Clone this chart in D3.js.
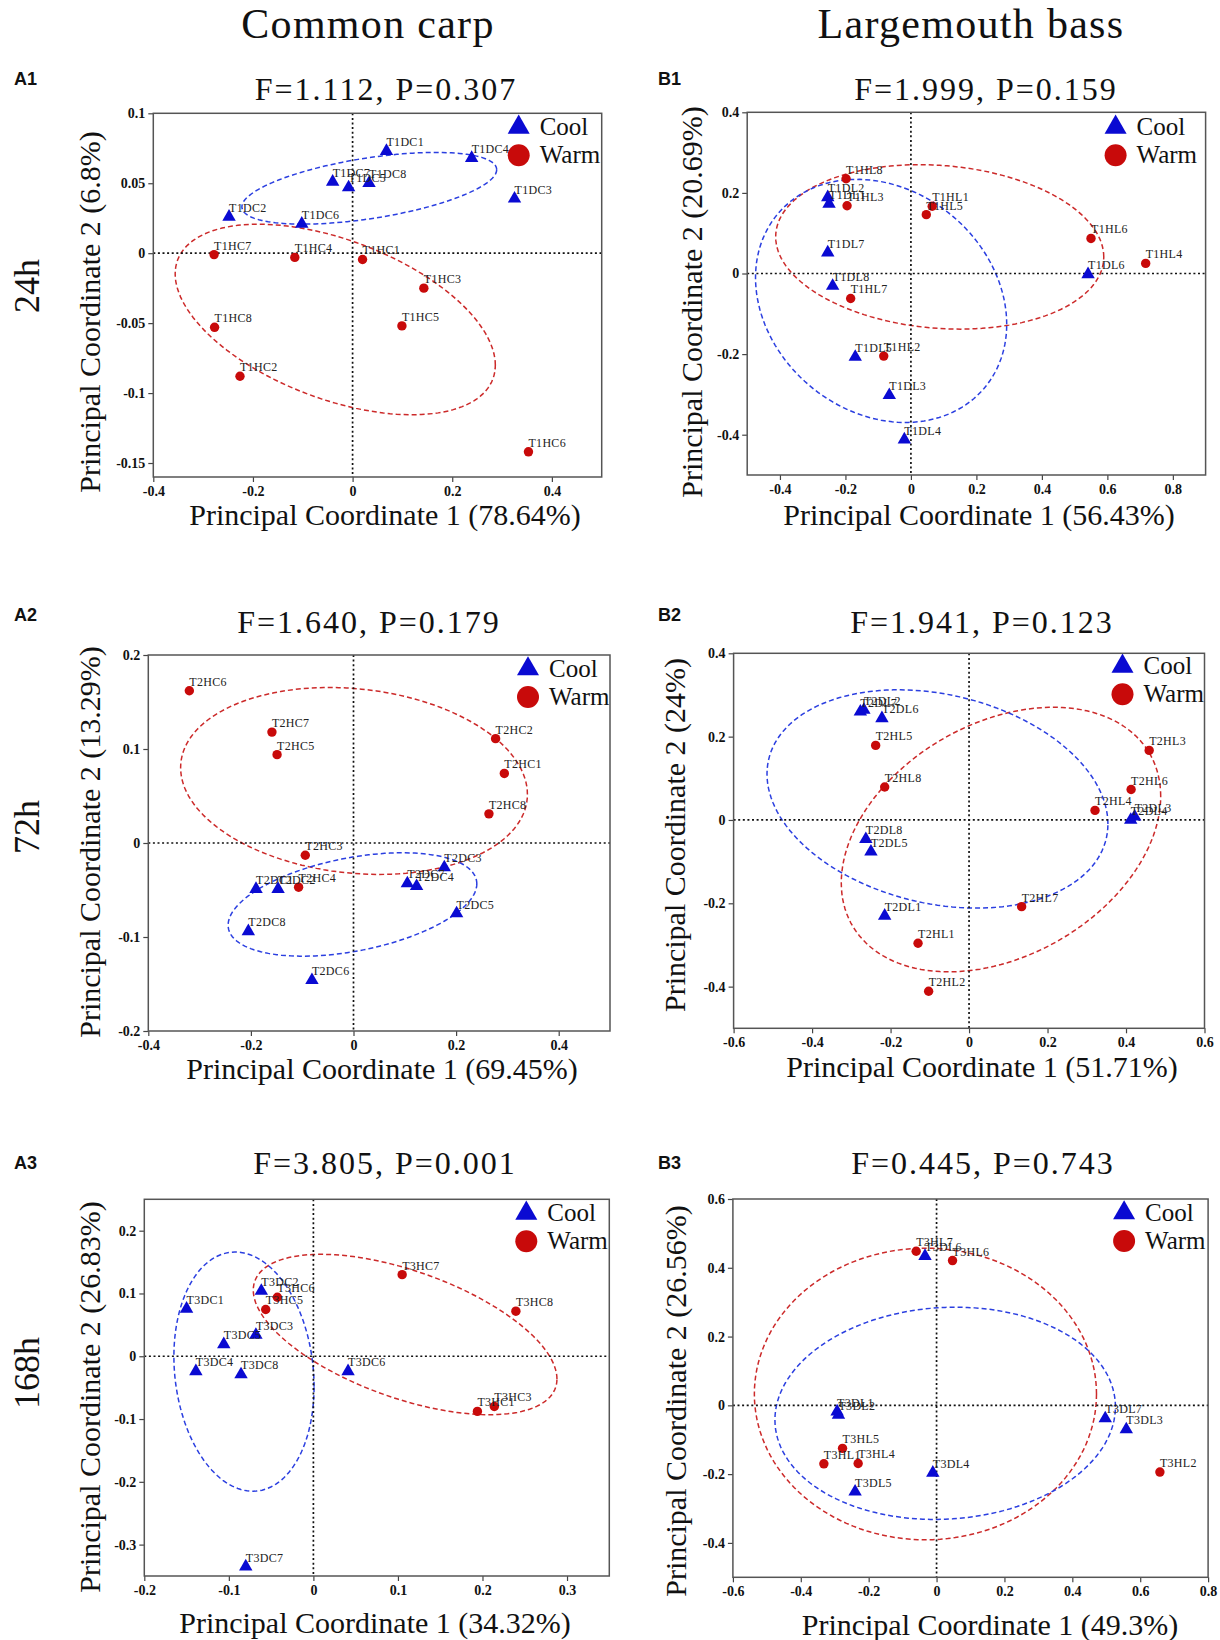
<!DOCTYPE html>
<html>
<head>
<meta charset="utf-8">
<script src="https://cdn.jsdelivr.net/npm/d3@7"></script>
<style>
body { margin: 0; background: #fff; }
svg text { font-family: "Liberation Serif", "Times New Roman", serif; }
</style>
</head>
<body>
<svg id="fig" width="1220" height="1640"></svg>
<script>
// ---- data: [label, PC1, PC2] ----
var a1Cool = [["T1DC1", 0.068, 0.073], ["T1DC4", 0.239, 0.068], ["T1DC3", 0.325, 0.039], ["T1DC7", -0.040, 0.051],
              ["T1DC5", -0.008, 0.047], ["T1DC8", 0.033, 0.050], ["T1DC2", -0.248, 0.026], ["T1DC6", -0.102, 0.021]];
var a1Warm = [["T1HC7", -0.278, -0.001], ["T1HC4", -0.116, -0.003], ["T1HC1", 0.020, -0.0045], ["T1HC3", 0.143, -0.025],
              ["T1HC5", 0.099, -0.052], ["T1HC8", -0.277, -0.053], ["T1HC2", -0.226, -0.088], ["T1HC6", 0.353, -0.142]];
var b1Cool = [["T1DL2", -0.254, 0.189], ["T1DL1", -0.250, 0.173], ["T1DL7", -0.254, 0.052], ["T1DL8", -0.239, -0.031],
              ["T1DL5", -0.170, -0.207], ["T1DL3", -0.066, -0.302], ["T1DL4", -0.020, -0.412], ["T1DL6", 0.541, -0.002]];
var b1Warm = [["T1HL8", -0.198, 0.235], ["T1HL3", -0.195, 0.168], ["T1HL1", 0.065, 0.167], ["T1HL5", 0.047, 0.146],
              ["T1HL6", 0.550, 0.087], ["T1HL4", 0.717, 0.025], ["T1HL7", -0.184, -0.062], ["T1HL2", -0.083, -0.205]];
var a2Cool = [["T2DC1", -0.190, -0.049], ["T2DC2", -0.147, -0.049], ["T2DC7", 0.105, -0.043], ["T2DC4", 0.123, -0.046],
              ["T2DC3", 0.177, -0.026], ["T2DC5", 0.201, -0.075], ["T2DC8", -0.205, -0.094], ["T2DC6", -0.081, -0.146]];
var a2Warm = [["T2HC6", -0.320, 0.162], ["T2HC7", -0.159, 0.118], ["T2HC5", -0.149, 0.094], ["T2HC2", 0.277, 0.111],
              ["T2HC1", 0.294, 0.074], ["T2HC8", 0.264, 0.031], ["T2HC3", -0.094, -0.013], ["T2HC4", -0.107, -0.047]];
var b2Cool = [["T2DL7", -0.277, 0.260], ["T2DL2", -0.268, 0.264], ["T2DL6", -0.222, 0.244], ["T2DL8", -0.263, -0.046],
              ["T2DL5", -0.250, -0.076], ["T2DL1", -0.215, -0.230], ["T2DL3", 0.422, 0.008], ["T2DL4", 0.412, 0.000]];
var b2Warm = [["T2HL5", -0.238, 0.179], ["T2HL8", -0.215, 0.079], ["T2HL3", 0.459, 0.167], ["T2HL6", 0.413, 0.073],
              ["T2HL4", 0.321, 0.023], ["T2HL7", 0.134, -0.208], ["T2HL1", -0.130, -0.296], ["T2HL2", -0.103, -0.411]];
var a3Cool = [["T3DC1", -0.150, 0.0755], ["T3DC2", -0.0616, 0.104], ["T3DC5", -0.106, 0.019], ["T3DC3", -0.068, 0.034],
              ["T3DC4", -0.139, -0.024], ["T3DC8", -0.0856, -0.029], ["T3DC6", 0.041, -0.024], ["T3DC7", -0.080, -0.335]];
var a3Warm = [["T3HC6", -0.0426, 0.094], ["T3HC5", -0.0564, 0.0745], ["T3HC7", 0.105, 0.130], ["T3HC8", 0.2395, 0.0718],
              ["T3HC1", 0.194, -0.0878], ["T3HC3", 0.214, -0.080]];
var b3Cool = [["T3DL6", -0.034, 0.434], ["T3DL1", -0.293, -0.018], ["T3DL2", -0.289, -0.028], ["T3DL7", 0.497, -0.038],
              ["T3DL3", 0.559, -0.070], ["T3DL4", -0.011, -0.196], ["T3DL5", -0.240, -0.251]];
var b3Warm = [["T3HL7", -0.060, 0.448], ["T3HL6", 0.047, 0.421], ["T3HL5", -0.277, -0.125], ["T3HL1", -0.332, -0.170],
              ["T3HL4", -0.231, -0.169], ["T3HL2", 0.658, -0.194]];

// ellipses: [centre PC1, centre PC2, rightmost dx, rightmost dy, vertical half chord]
var a1CoolEll = [0.0335, 0.0464, 0.2557, 0.0133, 0.0219];
var a1WarmEll = [-0.0348, -0.0474, 0.3213, -0.0326, 0.0598];
var b1CoolEll = [-0.091, -0.068, 0.3836, -0.058, 0.296];
var b1WarmEll = [0.088, 0.066, 0.501, -0.025, 0.2025];
var a2CoolEll = [-0.002, -0.0654, 0.2424, 0.022, 0.0504];
var a2WarmEll = [0.001, 0.066, 0.338, -0.0142, 0.0984];
var b2CoolEll = [-0.0805, 0.0504, 0.4344, -0.060, 0.255];
var b2WarmEll = [0.0814, -0.047, 0.407, 0.104, 0.300];
var a3CoolEll = [-0.0821, -0.0245, 0.0829, -0.024, 0.189];
var a3WarmEll = [0.1085, 0.0346, 0.1796, -0.0707, 0.1064];
var b3CoolEll = [0.0254, -0.0232, 0.5016, 0.019, 0.308];
var b3WarmEll = [-0.0328, 0.033, 0.504, 0, 0.424];

// axis domains and ticks
var a1XTicks = [-0.4, -0.2, 0, 0.2, 0.4], a1YTicks = [0.1, 0.05, 0, -0.05, -0.1, -0.15];
var b1XTicks = [-0.4, -0.2, 0, 0.2, 0.4, 0.6, 0.8], b1YTicks = [0.4, 0.2, 0, -0.2, -0.4];
var a2XTicks = [-0.4, -0.2, 0, 0.2, 0.4], a2YTicks = [0.2, 0.1, 0, -0.1, -0.2];
var b2XTicks = [-0.6, -0.4, -0.2, 0, 0.2, 0.4, 0.6], b2YTicks = [0.4, 0.2, 0, -0.2, -0.4];
var a3XTicks = [-0.2, -0.1, 0, 0.1, 0.2, 0.3], a3YTicks = [0.2, 0.1, 0, -0.1, -0.2, -0.3];
var b3XTicks = [-0.6, -0.4, -0.2, 0, 0.2, 0.4, 0.6, 0.8], b3YTicks = [0.6, 0.4, 0.2, 0, -0.2, -0.4];

// statistics and explained variance
var statF = ["1.112", "1.999", "1.640", "1.941", "3.805", "0.445"];
var statP = ["0.307", "0.159", "0.179", "0.123", "0.001", "0.743"];
var pc1Pct = ["78.64", "56.43", "69.45", "51.71", "34.32", "49.3"];
var pc2Pct = ["6.8", "20.69", "13.29", "24", "26.83", "26.56"];
var species = ["Common carp", "Largemouth bass"];
var times = ["24h", "72h", "168h"];
var groups = ["Cool", "Warm"];

var BLUE = "#0a0ad2", RED = "#c80a0a";
var BLUE_ELL = "#2b3fe0", RED_ELL = "#cc2a2a";

// ---- layout ----
var panels = [
    { tag: "A1", box: [153.3, 113.3, 601.7, 477], xDom: [-0.4, 0.5], yDom: [-0.16, 0.1], xTicks: a1XTicks, yTicks: a1YTicks,
      cool: a1Cool, warm: a1Warm, coolEll: a1CoolEll, warmEll: a1WarmEll, s: 0,
      title: [386, 100], xt: [385, 525], yt: [100, 312], tagPos: [14, 85], leg: [-83, 14] },
    { tag: "B1", box: [747.2, 112.3, 1205.6, 475], xDom: [-0.5, 0.9], yDom: [-0.5, 0.4], xTicks: b1XTicks, yTicks: b1YTicks,
      cool: b1Cool, warm: b1Warm, coolEll: b1CoolEll, warmEll: b1WarmEll, s: 1,
      title: [986, 100], xt: [979, 525], yt: [702, 302], tagPos: [658, 85], leg: [-90, 15] },
    { tag: "A2", box: [148.3, 655, 610, 1031], xDom: [-0.4, 0.5], yDom: [-0.2, 0.2], xTicks: a2XTicks, yTicks: a2YTicks,
      cool: a2Cool, warm: a2Warm, coolEll: a2CoolEll, warmEll: a2WarmEll, s: 2,
      title: [369, 633], xt: [382, 1079], yt: [100, 842], tagPos: [14, 621], leg: [-82, 14] },
    { tag: "B2", box: [733.6, 653.3, 1204.5, 1028.3], xDom: [-0.6, 0.6], yDom: [-0.5, 0.4], xTicks: b2XTicks, yTicks: b2YTicks,
      cool: b2Cool, warm: b2Warm, coolEll: b2CoolEll, warmEll: b2WarmEll, s: 3,
      title: [982, 633], xt: [982, 1077], yt: [685, 835], tagPos: [658, 621], leg: [-82, 13] },
    { tag: "A3", box: [144.3, 1199.3, 609.3, 1576], xDom: [-0.2, 0.35], yDom: [-0.35, 0.25], xTicks: a3XTicks, yTicks: a3YTicks,
      cool: a3Cool, warm: a3Warm, coolEll: a3CoolEll, warmEll: a3WarmEll, s: 4,
      title: [385, 1174], xt: [375, 1633], yt: [100, 1397], tagPos: [14, 1169], leg: [-83, 14] },
    { tag: "B3", box: [732.9, 1199, 1208.1, 1577.3], xDom: [-0.6, 0.8], yDom: [-0.5, 0.6], xTicks: b3XTicks, yTicks: b3YTicks,
      cool: b3Cool, warm: b3Warm, coolEll: b3CoolEll, warmEll: b3WarmEll, s: 5,
      title: [983, 1174], xt: [990, 1635], yt: [686, 1401], tagPos: [658, 1169], leg: [-84, 14] }
];

var svg = d3.select("#fig");
var fmt = function(d) { return d === 0 ? "0" : String(+d.toFixed(2)); };

// column headers and row labels
[368, 971].forEach(function(cx, i) {
    svg.append("text").attr("x", cx).attr("y", 38).attr("text-anchor", "middle")
        .attr("font-size", 42).attr("letter-spacing", 1.3).attr("fill", "#111").text(species[i]);
});
[286, 827, 1373].forEach(function(cy, i) {
    svg.append("text").attr("transform", "translate(39," + cy + ") rotate(-90)").attr("text-anchor", "middle")
        .attr("font-size", 36).attr("fill", "#111").text(times[i]);
});

function drawPanel(p) {
    var x0 = p.box[0], y0 = p.box[1], x1 = p.box[2], y1 = p.box[3];
    var x = d3.scaleLinear().domain(p.xDom).range([x0, x1]);
    var y = d3.scaleLinear().domain(p.yDom).range([y1, y0]);
    var g = svg.append("g");

    // axes
    g.append("g").attr("transform", "translate(" + x0 + ",0)")
        .call(d3.axisLeft(y).tickValues(p.yTicks).tickSize(5).tickPadding(3).tickFormat(fmt));
    g.append("g").attr("transform", "translate(0," + y1 + ")")
        .call(d3.axisBottom(x).tickValues(p.xTicks).tickSize(5).tickPadding(4).tickFormat(fmt));
    g.selectAll(".domain").remove();
    g.selectAll(".tick line").attr("stroke", "#444").attr("stroke-width", 1.2);
    g.selectAll(".tick text").attr("font-family", "Liberation Serif").attr("font-weight", "bold")
        .attr("font-size", 14).attr("fill", "#111");

    // confidence ellipses
    var line = d3.line().curve(d3.curveLinearClosed);
    function ellipse(e) {
        return d3.range(0, 144).map(function(i) {
            var t = i / 144 * 2 * Math.PI;
            return [x(e[0] + e[2] * Math.cos(t)), y(e[1] + e[3] * Math.cos(t) + e[4] * Math.sin(t))];
        });
    }
    g.append("path").attr("d", line(ellipse(p.warmEll))).attr("fill", "none")
        .attr("stroke", RED_ELL).attr("stroke-width", 1.5).attr("stroke-dasharray", "5,3");
    g.append("path").attr("d", line(ellipse(p.coolEll))).attr("fill", "none")
        .attr("stroke", BLUE_ELL).attr("stroke-width", 1.5).attr("stroke-dasharray", "5,3");

    // zero lines
    g.append("line").attr("x1", x(0)).attr("x2", x(0)).attr("y1", y0).attr("y2", y1)
        .attr("stroke", "#111").attr("stroke-width", 1.7).attr("stroke-dasharray", "2,2.6");
    g.append("line").attr("x1", x0).attr("x2", x1).attr("y1", y(0)).attr("y2", y(0))
        .attr("stroke", "#111").attr("stroke-width", 1.7).attr("stroke-dasharray", "2,2.6");

    // points
    g.selectAll(".cool").data(p.cool).enter().append("path").attr("class", "cool")
        .attr("d", d3.symbol(d3.symbolTriangle, 78))
        .attr("transform", function(d) { return "translate(" + x(d[1]) + "," + y(d[2]) + ")"; })
        .attr("fill", BLUE);
    g.selectAll(".warm").data(p.warm).enter().append("circle").attr("class", "warm")
        .attr("cx", function(d) { return x(d[1]); }).attr("cy", function(d) { return y(d[2]); })
        .attr("r", 4.7).attr("fill", RED);

    // point labels
    g.selectAll(".lab").data(p.cool.concat(p.warm)).enter().append("text").attr("class", "lab")
        .attr("x", function(d) { return x(d[1]); }).attr("y", function(d) { return y(d[2]) - 5; })
        .attr("font-size", 12).attr("letter-spacing", 0.3).attr("fill", "#222").text(function(d) { return d[0]; });

    // legend
    var lx = x1 + p.leg[0], ly = y0 + p.leg[1];
    g.append("path").attr("d", d3.symbol(d3.symbolTriangle, 210))
        .attr("transform", "translate(" + lx + "," + ly + ")").attr("fill", BLUE);
    g.append("circle").attr("cx", lx).attr("cy", ly + 28).attr("r", 11).attr("fill", RED);
    groups.forEach(function(name, i) {
        g.append("text").attr("x", lx + 21).attr("y", ly + 8 + i * 28).attr("font-size", 25)
            .attr("fill", "#111").text(name);
    });

    // frame
    g.append("rect").attr("x", x0).attr("y", y0).attr("width", x1 - x0).attr("height", y1 - y0)
        .attr("fill", "none").attr("stroke", "#555").attr("stroke-width", 1.5);

    // titles
    svg.append("text").attr("x", p.title[0]).attr("y", p.title[1]).attr("text-anchor", "middle")
        .attr("font-size", 32).attr("letter-spacing", 2).attr("fill", "#111")
        .text("F=" + statF[p.s] + ", P=" + statP[p.s]);
    svg.append("text").attr("x", p.xt[0]).attr("y", p.xt[1]).attr("text-anchor", "middle")
        .attr("font-size", 30).attr("fill", "#111").text("Principal Coordinate 1 (" + pc1Pct[p.s] + "%)");
    svg.append("text").attr("transform", "translate(" + p.yt[0] + "," + p.yt[1] + ") rotate(-90)")
        .attr("text-anchor", "middle").attr("font-size", 30).attr("fill", "#111")
        .text("Principal Coordinate 2 (" + pc2Pct[p.s] + "%)");
    svg.append("text").attr("x", p.tagPos[0]).attr("y", p.tagPos[1])
        .style("font-family", "'Liberation Sans', Arial, sans-serif").attr("font-weight", "bold")
        .attr("font-size", 18).attr("fill", "#111").text(p.tag);
}

panels.forEach(drawPanel);
</script>
</body>
</html>
